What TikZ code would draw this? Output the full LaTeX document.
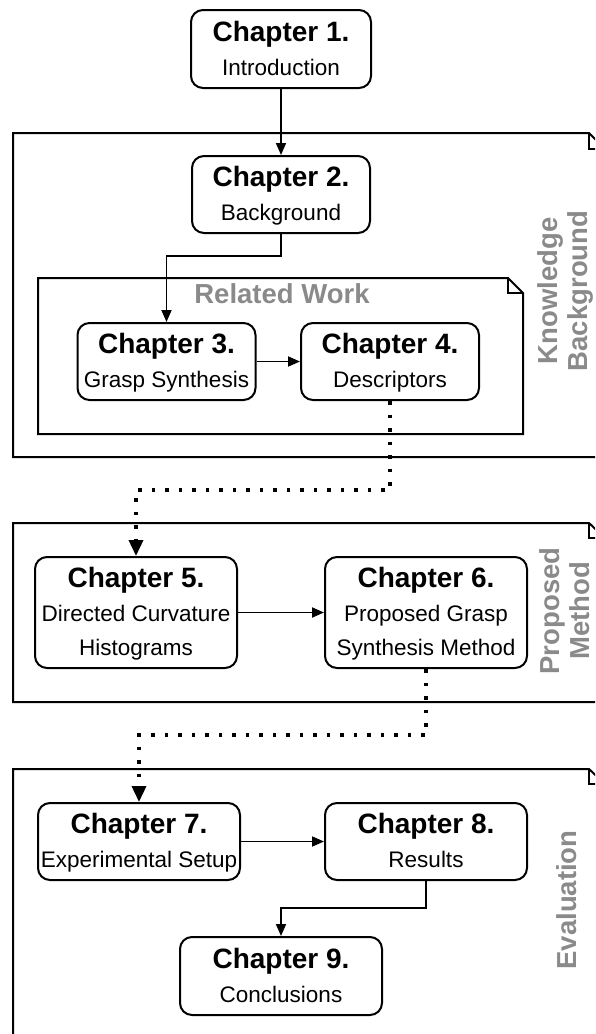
\documentclass[tikz,border=0pt]{standalone}
\usepackage{fontspec}
\setmainfont{Liberation Sans}
\usetikzlibrary{arrows.meta}
\definecolor{labelgray}{HTML}{8A8A8A}
\newcommand{\chaptitle}[1]{{\bfseries\fontsize{28}{34}\selectfont #1}}
\newcommand{\lastline}[1]{\raisebox{0pt}[\height][1.5pt]{#1}}
\begin{document}
\begin{tikzpicture}[x=1pt,y=-1pt,
  chap/.style={draw, line width=2pt, rounded corners=12pt, align=center, inner sep=0pt,
    font=\fontsize{22.5}{34}\selectfont},
  cont/.style={draw, line width=2pt, line join=miter},
  arr/.style={line width=1.8pt, -{Triangle[length=12pt,width=10pt]}},
  dotarr/.style={line width=3.5pt, line cap=butt, dash pattern=on 3.5pt off 10pt,
    -{Triangle[length=16pt,width=14pt]}},
  grouplabel/.style={text=labelgray, align=center, inner sep=0pt,
    font=\bfseries\fontsize{27.5}{30}\selectfont}
]
\clip (0,0) rectangle (595,1034);
\useasboundingbox (0,0) rectangle (595,1034);

% containers
\draw[cont] (13,133) -- (589,133) -- (605,149) -- (605,457) -- (13,457) -- cycle;
\draw[cont] (589,133) -- (589,149) -- (605,149);
\draw[cont] (38,278) -- (508,278) -- (523,293) -- (523,434) -- (38,434) -- cycle;
\draw[cont] (508,278) -- (508,293) -- (523,293);
\draw[cont] (13,523) -- (589,523) -- (605,538) -- (605,702) -- (13,702) -- cycle;
\draw[cont] (589,523) -- (589,538) -- (605,538);
\draw[cont] (13,769) -- (589,769) -- (605,784) -- (605,1060) -- (13,1060) -- cycle;
\draw[cont] (589,769) -- (589,784) -- (605,784);

% group labels
\node[grouplabel] (lrel) at (282,294) {Related Work};
\node[grouplabel, rotate=90] (lkb) at (565,291) {Knowledge\\Background};
\node[grouplabel, rotate=90] (lpm) at (565,611) {Proposed\\Method};
\node[grouplabel, rotate=90] (lev) at (567,900) {Evaluation};

% chapters
\node[chap, minimum width=180pt, minimum height=78pt] (c1) at (281,49)
  {\chaptitle{Chapter 1.}\\\lastline{Introduction}};
\node[chap, minimum width=178pt, minimum height=77pt] (c2) at (281,194.5)
  {\chaptitle{Chapter 2.}\\\lastline{Background}};
\node[chap, minimum width=178pt, minimum height=77pt] (c3) at (166.5,361.5)
  {\chaptitle{Chapter 3.}\\\lastline{Grasp Synthesis}};
\node[chap, minimum width=178pt, minimum height=77pt] (c4) at (390,361.5)
  {\chaptitle{Chapter 4.}\\\lastline{Descriptors}};
\node[chap, minimum width=202pt, minimum height=111pt] (c5) at (136,612.5)
  {\chaptitle{Chapter 5.}\\Directed Curvature\\\lastline{Histograms}};
\node[chap, minimum width=202pt, minimum height=111pt] (c6) at (426,612.5)
  {\chaptitle{Chapter 6.}\\Proposed Grasp\\\lastline{Synthesis Method}};
\node[chap, minimum width=202pt, minimum height=77pt] (c7) at (139,841.5)
  {\chaptitle{Chapter 7.}\\\lastline{Experimental Setup}};
\node[chap, minimum width=202pt, minimum height=77pt] (c8) at (426,841.5)
  {\chaptitle{Chapter 8.}\\\lastline{Results}};
\node[chap, minimum width=202pt, minimum height=78pt] (c9) at (281,976)
  {\chaptitle{Chapter 9.}\\\lastline{Conclusions}};

% connectors
\draw[arr] (c1) -- (c2);
\draw[arr] (c2.south) -- ++(0,22) -| (c3.north);
\draw[arr] (c3) -- (c4);
\draw[dotarr] (c4.south) -- (c4.south |- 0,490) -| (c5.north);
\draw[arr] (c5) -- (c6);
\draw[dotarr] (c6.south) -- (c6.south |- 0,735) -| (c7.north);
\draw[arr] (c7) -- (c8);
\draw[arr] (c8.south) -- (c8.south |- 0,908) -| (c9.north);
\end{tikzpicture}
\end{document}
